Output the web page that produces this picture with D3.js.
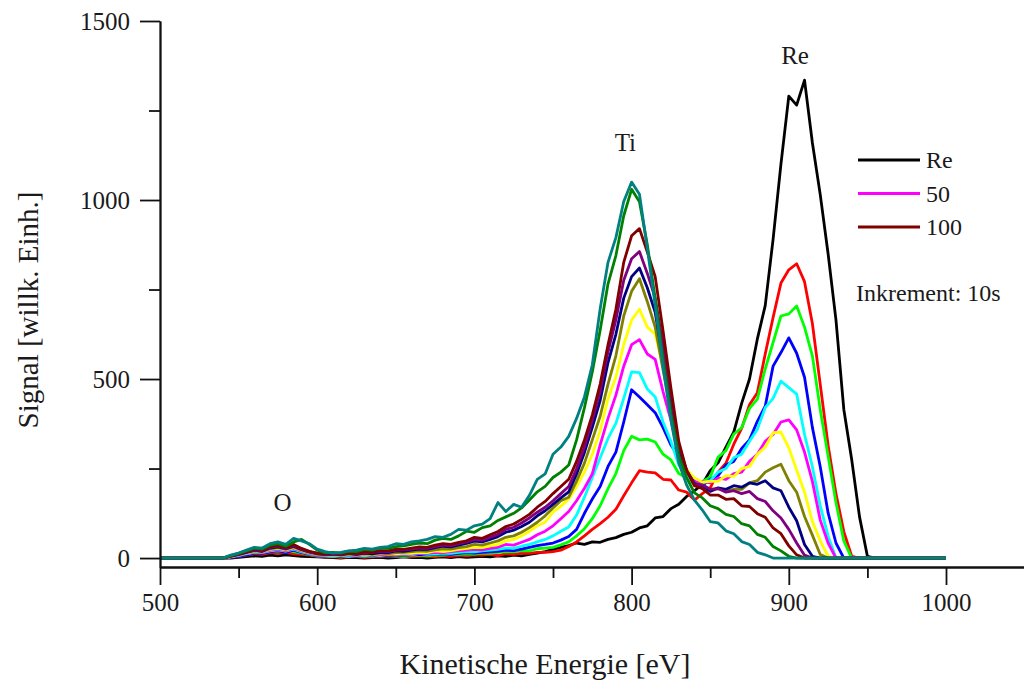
<!DOCTYPE html>
<html>
<head>
<meta charset="utf-8">
<script src="https://d3js.org/d3.v7.min.js"></script>
<style>
  body { margin: 0; background: #fff; }
  svg text { font-family: "Liberation Serif", "Times New Roman", serif; fill: #1a1a1a; }
</style>
</head>
<body>
<svg id="chart" width="1024" height="682"></svg>
<script>
// energy grid of the sampled spectra (eV), 540 ... 960 in 5 eV steps
const energy = d3.range(540, 961, 5);

// series, one value per grid point
const reSignal = [
  0,0,2,4,6,5,8,6,9,7,5,4,
  3,2,1,0,2,1,0,1,2,0,1,3,
  1,2,0,2,3,1,4,2,3,5,3,6,
  5,8,6,10,14,18,24,30,35,42,38,45,
  44,52,57,66,72,84,90,112,116,138,150,172,
  188,206,244,266,310,352,432,500,612,705,890,1100,
  1290,1265,1335,1160,1015,850,665,415,275,115,5,0,
  0];
const s10 = [
  0,2,4,8,12,10,15,13,16,12,10,8,
  5,3,4,2,3,5,2,4,3,6,4,5,
  3,6,5,4,7,5,8,6,9,8,10,7,
  12,10,14,13,16,16,18,22,32,45,62,80,
  96,114,136,174,210,244,240,238,220,218,190,184,
  162,180,196,240,265,318,362,428,462,570,672,768,
  805,822,772,655,485,315,180,74,5,0,0,0,
  0];
const s20 = [
  0,3,6,10,15,14,20,17,22,18,14,10,
  6,4,5,3,6,4,7,5,8,6,7,5,
  7,8,6,9,8,11,10,12,11,14,13,16,
  18,17,21,20,26,28,30,37,45,62,82,110,
  146,194,236,300,340,330,332,324,290,274,236,224,
  206,214,226,282,300,346,364,418,444,528,602,676,
  682,704,645,565,415,285,155,48,0,0,0,0,
  0];
const s30 = [
  0,2,5,9,14,13,18,20,16,22,15,11,
  7,5,6,4,7,5,8,6,7,8,7,9,
  8,10,9,11,12,10,13,15,14,16,17,19,
  22,21,25,30,35,38,42,50,60,80,125,165,
  200,256,296,380,470,450,428,406,364,316,284,236,
  214,202,220,230,260,270,306,330,382,424,536,574,
  615,572,505,365,255,126,42,0,0,0,0,0,
  0];
const s40 = [
  0,3,7,12,16,15,20,23,19,25,17,12,
  8,6,5,7,5,8,6,9,7,10,8,11,
  9,13,10,12,14,13,16,18,17,20,22,24,
  28,27,33,38,45,52,62,75,87,120,170,225,
  280,334,376,446,520,518,472,450,380,326,260,234,
  206,210,216,240,250,280,290,326,360,420,446,494,
  476,458,345,255,146,62,0,0,0,0,0,0,
  0];
const s50 = [
  0,4,8,13,18,16,22,25,21,27,19,14,
  9,7,8,6,9,7,10,8,11,9,10,12,
  11,14,13,16,15,18,20,22,24,23,27,30,
  38,36,44,52,65,75,90,110,130,160,195,235,
  316,390,455,536,596,610,570,555,465,385,286,248,
  212,214,210,224,220,236,240,270,290,326,345,380,
  386,358,296,214,106,42,0,0,0,0,0,0,
  0];
const s60 = [
  0,4,9,14,19,17,24,27,23,29,21,15,
  10,8,9,7,10,8,12,9,13,11,12,14,
  13,16,15,20,18,21,24,27,30,29,34,38,
  48,52,62,75,90,100,128,145,165,200,240,290,
  356,445,505,596,665,695,645,625,535,425,296,248,
  224,212,214,214,230,228,250,256,290,310,350,352,
  308,246,184,102,48,5,0,0,0,0,0,0,
  0];
const s70 = [
  0,5,9,15,20,18,26,29,24,31,22,16,
  11,9,10,8,11,9,13,10,14,12,15,16,
  18,20,19,23,26,25,29,32,38,36,42,48,
  58,62,72,85,100,118,140,160,170,215,265,330,
  396,486,565,676,745,780,716,645,525,415,296,244,
  208,204,192,194,188,192,192,210,216,240,252,262,
  216,184,116,64,10,0,0,0,0,0,0,0,
  0];
const s80 = [
  0,5,10,16,22,19,28,31,26,33,24,17,
  12,10,11,9,13,10,14,12,16,15,20,19,
  22,25,24,29,33,31,36,41,47,45,52,60,
  72,78,88,100,118,132,150,168,185,235,295,365,
  440,546,625,726,786,810,755,686,555,435,306,244,
  208,202,186,196,192,202,198,210,206,216,196,188,
  142,104,38,5,0,0,0,0,0,0,0,0,
  0];
const s90 = [
  0,5,11,17,23,20,30,33,27,35,25,18,
  13,11,12,10,14,12,16,15,19,18,22,23,
  25,28,27,32,36,34,40,45,52,50,58,66,
  80,86,98,112,128,142,160,180,200,250,310,385,
  466,576,665,776,836,856,795,726,595,455,316,244,
  206,204,192,194,184,188,180,186,166,158,132,112,
  80,42,8,0,0,0,0,0,0,0,0,0,
  0];
const s100 = [
  0,6,12,18,25,22,32,36,29,38,27,19,
  14,12,13,11,15,13,17,16,21,20,25,24,
  28,31,30,36,40,38,44,48,58,55,65,74,
  88,95,108,122,142,158,180,200,220,270,330,400,
  486,596,695,826,900,920,855,786,635,475,326,244,
  202,194,176,176,164,166,146,144,124,114,84,68,
  34,9,0,0,0,0,0,0,0,0,0,0,
  0];
const s110 = [
  0,7,13,20,28,25,36,40,33,45,52,38,
  22,15,16,14,19,18,24,22,28,27,32,34,
  38,42,40,50,55,52,62,75,72,85,90,105,
  115,125,140,162,185,200,225,240,260,330,420,520,
  636,766,845,956,1030,995,875,726,555,405,286,224,
  182,168,146,138,122,116,96,90,66,58,32,20,
  5,0,0,0,0,0,0,0,0,0,0,0,
  0];
const s120 = [
  0,8,14,22,30,28,40,45,38,55,48,40,
  25,18,14,16,20,22,27,25,30,32,40,38,
  45,48,52,60,58,66,80,78,90,95,110,155,
  130,150,142,175,220,235,290,310,340,390,450,540,
  696,826,895,996,1050,1016,865,706,535,386,266,204,
  162,134,102,98,76,68,46,38,16,9,0,0,
  0,0,0,0,0,0,0,0,0,0,0,0,
  0];

const seriesNames = ["Re", "10", "20", "30", "40", "50", "60", "70", "80", "90", "100", "110", "120"];
const seriesValues = [reSignal, s10, s20, s30, s40, s50, s60, s70, s80, s90, s100, s110, s120];
const seriesColors = ["#000000", "#ff0000", "#00ff00", "#0000ff", "#00ffff", "#ff00ff", "#ffff00",
  "#808000", "#000080", "#800080", "#800000", "#008000", "#008080"];

const xMajorTicks = [500, 600, 700, 800, 900, 1000];
const xMinorTicks = [550, 650, 750, 850, 950];
const yMajorTicks = [0, 500, 1000, 1500];
const yMinorTicks = [250, 750, 1250];

const legendEntries = [
  { name: "Re", color: "#000000" },
  { name: "50", color: "#ff00ff" },
  { name: "100", color: "#800000" },
];

const peakLabels = [
  { text: "O", e: 578, v: 156 },
  { text: "Ti", e: 796, v: 1162 },
  { text: "Re", e: 904, v: 1405 },
];

const svg = d3.select("#chart");

const x = d3.scaleLinear().domain([500, 1050]).range([160, 1024.6]);
const y = d3.scaleLinear().domain([-25, 1500]).range([567, 21]);

// spectra, first series underneath
const line = d3.line()
  .x((d) => x(d[0]))
  .y((d) => y(d[1]));

const plotData = seriesValues.map((vals, i) => ({
  name: seriesNames[i],
  color: seriesColors[i],
  points: [[500, 0]].concat(energy.map((e, j) => [e, vals[j]]), [[1000, 0]]),
}));

svg.append("g")
  .selectAll("path")
  .data(plotData)
  .enter()
  .append("path")
  .attr("d", (d) => line(d.points))
  .attr("fill", "none")
  .attr("stroke", (d) => d.color)
  .attr("stroke-width", 2.8)
  .attr("stroke-linejoin", "round");

// axes
const fmt = d3.format("d");
const xAxis = svg.append("g")
  .attr("transform", `translate(0,${y(-25)})`)
  .call(d3.axisBottom(x).tickValues(xMajorTicks).tickFormat(fmt).tickSize(18).tickSizeOuter(0).tickPadding(8));
svg.append("g")
  .attr("transform", `translate(0,${y(-25)})`)
  .call(d3.axisBottom(x).tickValues(xMinorTicks).tickSize(11).tickSizeOuter(0).tickFormat(""));

const yAxis = svg.append("g")
  .attr("transform", `translate(${x(500)},0)`)
  .call(d3.axisLeft(y).tickValues(yMajorTicks).tickFormat(fmt).tickSize(20).tickSizeOuter(0).tickPadding(10));
svg.append("g")
  .attr("transform", `translate(${x(500)},0)`)
  .call(d3.axisLeft(y).tickValues(yMinorTicks).tickSize(11).tickSizeOuter(0).tickFormat(""));

svg.selectAll(".domain, .tick line").attr("stroke", "#111").attr("stroke-width", 1.8);
xAxis.selectAll("text").style("font-size", "25px").style("font-family", "Liberation Serif");
yAxis.selectAll("text").style("font-size", "25px").style("font-family", "Liberation Serif");

// axis titles
svg.append("text")
  .attr("x", 545)
  .attr("y", 674)
  .attr("text-anchor", "middle")
  .style("font-size", "30px")
  .text("Kinetische Energie [eV]");

svg.append("text")
  .attr("transform", "translate(38,310) rotate(-90)")
  .attr("text-anchor", "middle")
  .style("font-size", "29px")
  .text("Signal [willk. Einh.]");

// peak labels
svg.append("g")
  .selectAll("text")
  .data(peakLabels)
  .enter()
  .append("text")
  .attr("x", (d) => x(d.e))
  .attr("y", (d) => y(d.v))
  .attr("text-anchor", "middle")
  .attr("dominant-baseline", "central")
  .style("font-size", "25px")
  .text((d) => d.text);

// legend
const legend = svg.append("g").attr("transform", "translate(858,160)");
legendEntries.forEach((d, i) => {
  legend.append("line")
    .attr("x1", 0).attr("x2", 62)
    .attr("y1", i * 33.5).attr("y2", i * 33.5)
    .attr("stroke", d.color)
    .attr("stroke-width", 2.8);
  legend.append("text")
    .attr("x", 68)
    .attr("y", i * 33.5 + 8)
    .style("font-size", "24px")
    .text(d.name);
});

svg.append("text")
  .attr("x", 856)
  .attr("y", 301)
  .style("font-size", "24px")
  .text("Inkrement: 10s");
</script>
</body>
</html>
